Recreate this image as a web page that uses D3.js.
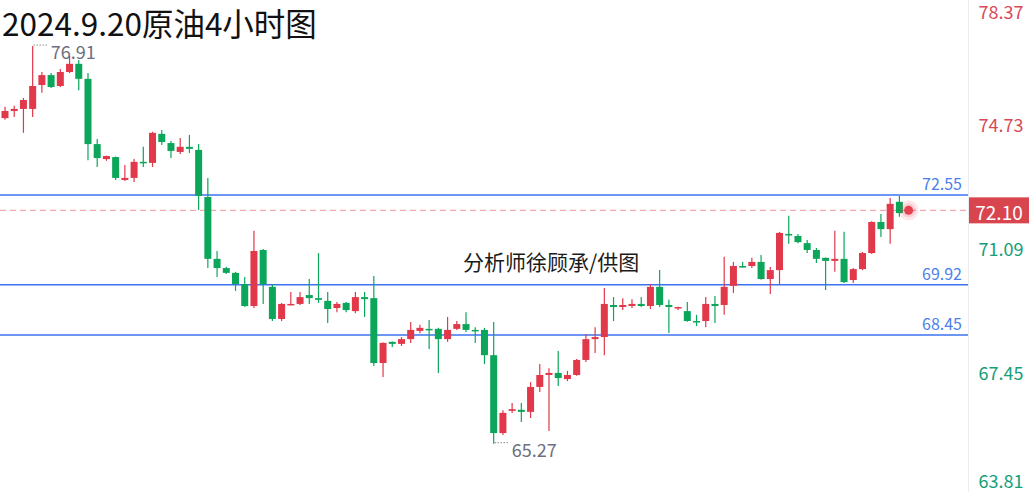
<!DOCTYPE html>
<html><head><meta charset="utf-8">
<script src="https://cdn.jsdelivr.net/npm/d3@7"></script>
<style>body{margin:0;background:#fff;overflow:hidden;} svg{display:block;}</style>
</head><body><svg id="c" width="1029" height="492"></svg>
<script>
const title = "2024.9.20原油4小时图";
const watermark = "分析师徐顾承/供图";
const open = [
74.80,75.01,75.07,75.07,75.77,76.06,75.74,76.15,76.39,75.95,
74.04,73.60,73.66,72.99,73.05,73.52,73.49,74.34,74.07,73.81,
73.96,73.87,72.49,70.68,70.41,70.27,69.94,69.30,70.94,69.86,
68.92,69.33,69.36,69.62,69.53,69.45,69.24,69.39,69.15,69.56,
69.53,67.63,68.25,68.19,68.33,68.57,68.63,68.63,68.33,68.63,
68.77,68.60,68.60,67.86,65.58,66.23,66.26,66.20,66.93,67.28,
67.34,67.16,67.28,67.72,68.33,68.39,69.33,69.27,69.30,69.36,
69.30,69.86,69.33,69.24,69.15,68.86,68.86,69.36,69.33,69.89,
70.47,70.47,70.59,70.09,70.35,71.41,71.35,71.14,70.94,70.71,
70.62,70.68,70.06,70.38,70.85,71.76,71.55,72.35,72.02];
const high = [
75.13,75.16,75.39,76.91,76.15,76.12,76.24,76.62,76.50,76.12,
74.19,73.70,73.68,73.43,73.60,73.96,74.40,74.45,74.13,74.22,
74.31,74.04,73.05,70.91,70.45,70.30,70.15,71.50,70.97,69.94,
69.39,69.71,69.71,70.09,70.85,69.71,69.42,69.42,69.71,69.71,
70.18,68.23,68.26,68.39,68.83,68.75,68.89,68.66,68.98,68.86,
69.12,68.68,68.66,68.83,66.25,66.46,66.46,67.07,67.60,67.48,
67.98,67.40,67.75,68.48,68.68,69.83,69.56,69.53,69.50,69.56,
69.94,70.35,69.48,69.28,69.42,69.04,69.56,69.59,70.74,70.59,
70.59,70.71,70.79,70.44,71.47,71.94,71.41,71.23,71.00,70.72,
71.50,71.47,70.41,70.88,71.78,71.99,72.46,72.52,72.12];
const low = [
74.75,74.83,74.37,74.83,75.54,75.68,75.71,76.12,75.62,73.57,
73.37,73.55,72.99,72.96,72.93,73.37,73.37,74.01,73.63,73.75,
73.78,72.11,70.41,70.15,70.24,69.74,69.27,69.24,69.36,68.86,
68.86,69.32,69.33,69.36,69.39,68.80,69.12,69.12,69.09,68.98,
67.54,67.22,68.10,68.13,68.22,68.50,68.04,67.34,68.25,68.60,
68.54,68.22,67.60,65.27,65.52,66.17,65.90,66.02,66.78,65.64,
66.96,67.10,67.26,67.66,67.92,67.86,68.86,69.18,69.24,69.27,
69.21,69.27,68.51,69.18,68.84,68.71,68.68,68.80,69.04,69.68,
70.42,70.41,70.07,69.65,69.94,71.12,71.14,70.85,70.56,69.77,
70.30,69.97,69.97,70.35,70.82,71.32,71.12,71.91,72.00];
const close = [
75.01,75.07,75.33,75.74,76.06,75.71,76.15,76.39,75.95,74.04,
73.63,73.69,73.05,73.05,73.52,73.49,74.37,74.10,73.84,73.96,
73.90,72.52,70.68,70.41,70.27,69.94,69.30,70.91,69.94,68.92,
69.36,69.36,69.56,69.53,69.48,69.21,69.36,69.18,69.56,69.50,
67.63,68.22,68.19,68.33,68.60,68.66,68.60,68.33,68.60,68.77,
68.60,68.57,67.86,65.58,66.17,66.28,66.20,66.93,67.28,67.34,
67.19,67.28,67.72,68.33,68.39,69.36,69.27,69.33,69.36,69.30,
69.86,69.33,69.27,69.27,68.86,68.83,69.36,69.30,69.86,70.47,
70.44,70.59,70.09,70.35,71.44,71.38,71.17,70.94,70.68,70.62,
70.68,70.00,70.38,70.85,71.76,71.55,72.29,72.02,72.10];
const levels = [72.55, 69.92, 68.45];
const axisTicks = [78.37, 74.73, 71.09, 67.45, 63.81];
const lastPrice = 72.10;
const extremeValues = [76.91, 65.27];

const W = 1029, H = 492, plotRight = 968;
const svg = d3.select("#c");
const candles = open.map((o, i) => ({i, o, h: high[i], l: low[i], c: close[i]}));

const x = d3.scalePoint().domain(d3.range(candles.length)).range([5, 908.6]);
const y = d3.scaleLinear().domain([63.81, 78.37]).range([493.5, -3.8]);

const RED = "#e1384a", GREEN = "#0ba65a";
const FONT = "'Noto Sans CJK SC','Noto Sans',sans-serif";

// axis separator
svg.append("line").attr("x1", plotRight + 0.5).attr("x2", plotRight + 0.5)
  .attr("y1", 0).attr("y2", H).attr("stroke", "#ececf2").attr("stroke-width", 1);

// level lines
svg.append("g").selectAll("line").data(levels).join("line")
  .attr("x1", 0).attr("x2", plotRight)
  .attr("y1", d => y(d)).attr("y2", d => y(d))
  .attr("stroke", "#3d72f0").attr("stroke-width", 1.5);
svg.append("g").selectAll("text").data(levels).join("text")
  .attr("x", 962).attr("y", d => y(d) - 5)
  .attr("text-anchor", "end")
  .attr("font-family", FONT).attr("font-size", 16)
  .attr("fill", "#4b7fea")
  .text(d => d.toFixed(2));

// last price dashed line
svg.append("line").attr("x1", 0).attr("x2", plotRight)
  .attr("y1", y(lastPrice)).attr("y2", y(lastPrice))
  .attr("stroke", "#f3a9b0").attr("stroke-width", 1.3).attr("stroke-dasharray", "6,4");

// watermark
svg.append("text").attr("x", 463).attr("y", 270)
  .attr("font-family", FONT).attr("font-size", 21).attr("fill", "#1a1a1a")
  .text(watermark);

// candles
const g = svg.append("g");
const bw = 7;
g.selectAll("line.w").data(candles).join("line").attr("class", "w")
  .attr("x1", d => x(d.i)).attr("x2", d => x(d.i))
  .attr("y1", d => y(d.h)).attr("y2", d => y(d.l))
  .attr("stroke", d => d.c >= d.o ? RED : GREEN).attr("stroke-width", 1.2);
g.selectAll("rect").data(candles).join("rect")
  .attr("x", d => x(d.i) - bw / 2)
  .attr("y", d => Math.min(y(d.o), y(d.c)))
  .attr("width", bw)
  .attr("height", d => Math.max(1.5, Math.abs(y(d.o) - y(d.c))))
  .attr("fill", d => d.c >= d.o ? RED : GREEN);

// extremes
extremeValues.forEach((v, k) => {
  const idx = k === 0 ? high.indexOf(v) : low.indexOf(v);
  const cx = x(idx), cy = y(v);
  svg.append("line").attr("x1", cx + 1).attr("x2", cx + 16)
    .attr("y1", cy - 1).attr("y2", cy - 1)
    .attr("stroke", "#555").attr("stroke-width", 1).attr("stroke-dasharray", "1,2");
  svg.append("text").attr("x", cx + 18).attr("y", cy + 5)
    .attr("dominant-baseline", "central")
    .attr("font-family", FONT).attr("font-size", 18).attr("fill", "#6d7080")
    .text(v.toFixed(2));
});

// pulse dot
const lx = x(candles.length - 1), ly = y(lastPrice);
svg.append("circle").attr("cx", lx).attr("cy", ly).attr("r", 10).attr("fill", "rgba(230,60,80,0.12)");
svg.append("circle").attr("cx", lx).attr("cy", ly).attr("r", 7).attr("fill", "rgba(230,60,80,0.15)");
svg.append("circle").attr("cx", lx).attr("cy", ly).attr("r", 4.5).attr("fill", "#e4404f");

// right axis labels
svg.append("g").selectAll("text").data(axisTicks).join("text")
  .attr("x", 1001).attr("text-anchor", "middle")
  .attr("y", d => Math.max(11, Math.min(480, y(d) + 3)))
  .attr("dominant-baseline", "central")
  .attr("font-family", FONT).attr("font-size", 18)
  .attr("fill", d => d > lastPrice ? "#d94a58" : "#159e78")
  .text(d => d.toFixed(2));

// last price box
svg.append("rect").attr("x", plotRight + 1).attr("y", y(lastPrice) - 13)
  .attr("width", W - plotRight - 1).attr("height", 26).attr("fill", "#d9454f");
svg.append("text").attr("x", 999).attr("y", y(lastPrice) + 1)
  .attr("text-anchor", "middle").attr("dominant-baseline", "central")
  .attr("font-family", FONT).attr("font-size", 19).attr("fill", "#fff")
  .text(lastPrice.toFixed(2));

// title
svg.append("text").attr("x", 2).attr("y", 35.5)
  .attr("font-family", FONT).attr("font-size", 31.5).attr("fill", "#111")
  .text(title);
</script></body></html>
